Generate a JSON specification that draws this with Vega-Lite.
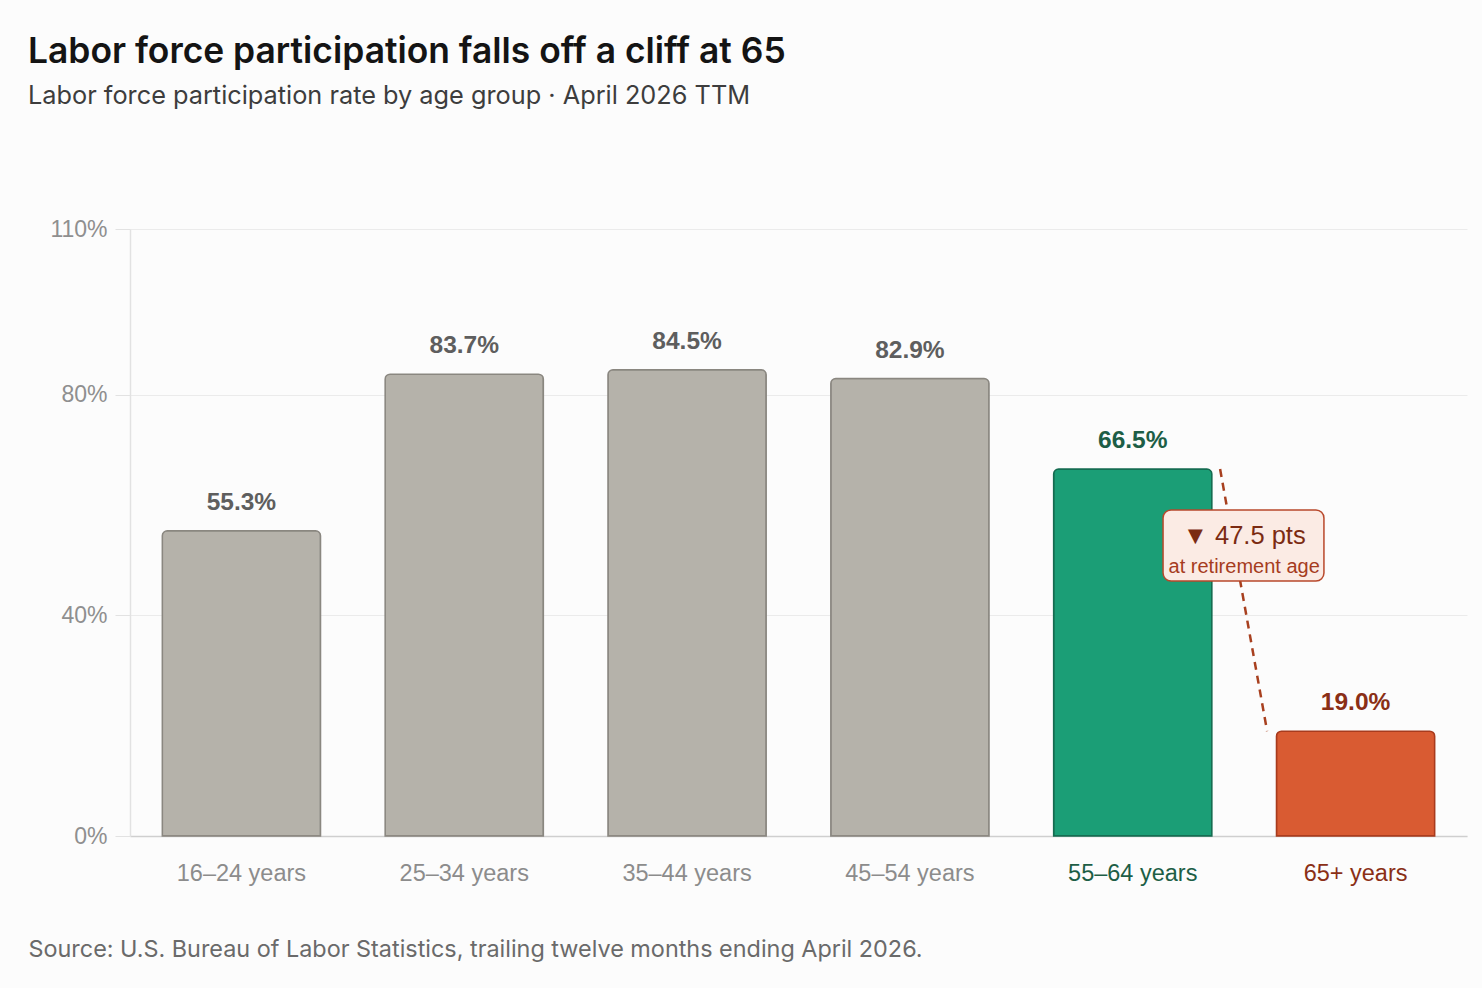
{
  "$schema": "https://vega.github.io/schema/vega-lite/v6.json",
  "width": 1337,
  "height": 607,
  "autosize": {"type": "none"},
  "padding": {"left": 130, "top": 229, "right": 15, "bottom": 152},
  "background": "#fcfcfc",
  "config": {"view": {"stroke": null}},
  "title": {
    "text": "Labor force participation falls off a cliff at 65",
    "subtitle": "Labor force participation rate by age group · April 2026 TTM",
    "anchor": "start",
    "frame": "group",
    "dx": -102,
    "offset": 109,
    "font": "Inter",
    "fontSize": 35.4,
    "fontWeight": 600,
    "color": "#141414",
    "subtitleFont": "Inter",
    "subtitleFontSize": 25.3,
    "subtitleColor": "#3d3d3d",
    "subtitlePadding": 13
  },
  "layer": [
    {
      "data": {
        "values": [
          {"group": "16–24 years", "rate": 0.553},
          {"group": "25–34 years", "rate": 0.837},
          {"group": "35–44 years", "rate": 0.845},
          {"group": "45–54 years", "rate": 0.829},
          {"group": "55–64 years", "rate": 0.665},
          {"group": "65+ years", "rate": 0.19}
        ]
      },
      "encoding": {
        "x": {
          "field": "group",
          "type": "nominal",
          "sort": null,
          "scale": {"paddingInner": 0.29, "paddingOuter": 0.145},
          "axis": {
            "title": "Source: U.S. Bureau of Labor Statistics, trailing twelve months ending April 2026.",
            "labelAngle": 0,
            "ticks": false,
            "domainColor": "#cfcfcf",
            "domainWidth": 1.5,
            "labelPadding": 25,
            "labelFont": "Liberation Sans",
            "labelFontSize": 23.5,
            "labelColor": {
              "condition": [
                {"test": "datum.value === '55–64 years'", "value": "#1d5e46"},
                {"test": "datum.value === '65+ years'", "value": "#8a2f16"}
              ],
              "value": "#8c8c8c"
            },
            "titleX": -102,
            "titleY": 120,
            "titleAnchor": "start",
            "titleAlign": "left",
            "titleBaseline": "alphabetic",
            "titleFont": "Inter",
            "titleFontSize": 23.4,
            "titleFontWeight": "normal",
            "titleColor": "#6a6a6a"
          }
        },
        "y": {
          "field": "rate",
          "type": "quantitative",
          "scale": {"domain": [0, 1.1], "nice": false, "zero": true},
          "axis": {
            "values": [0, 0.4, 0.8, 1.1],
            "format": ".0%",
            "title": null,
            "grid": true,
            "gridColor": "#ebebeb",
            "gridWidth": 1.2,
            "domainColor": "#e2e2e2",
            "domainWidth": 1.5,
            "tickColor": "#e2e2e2",
            "tickSize": 15,
            "labelPadding": 8,
            "labelFont": "Liberation Sans",
            "labelFontSize": 23,
            "labelColor": "#8f8f8f"
          }
        }
      },
      "layer": [
        {
          "mark": {"type": "bar", "cornerRadiusEnd": 5, "strokeWidth": 1.5},
          "encoding": {
            "fill": {
              "condition": [
                {"test": "datum.group === '55–64 years'", "value": "#1b9e76"},
                {"test": "datum.group === '65+ years'", "value": "#d95b32"}
              ],
              "value": "#b5b2aa"
            },
            "stroke": {
              "condition": [
                {"test": "datum.group === '55–64 years'", "value": "#156b50"},
                {"test": "datum.group === '65+ years'", "value": "#a83b1d"}
              ],
              "value": "#8a8780"
            }
          }
        },
        {
          "mark": {
            "type": "text",
            "font": "Liberation Sans",
            "fontSize": 24.5,
            "fontWeight": "bold",
            "baseline": "alphabetic",
            "dy": -21
          },
          "encoding": {
            "text": {"field": "rate", "type": "quantitative", "format": ".1%"},
            "color": {
              "condition": [
                {"test": "datum.group === '55–64 years'", "value": "#1d5e46"},
                {"test": "datum.group === '65+ years'", "value": "#8a2f16"}
              ],
              "value": "#5e5e5e"
            }
          }
        }
      ]
    },
    {
      "data": {
        "values": [
          {"from_group": "55–64 years", "to_group": "65+ years", "from_rate": 0.665, "to_rate": 0.19}
        ]
      },
      "transform": [
        {"calculate": "'▼ ' + format((datum.from_rate - datum.to_rate) * 100, '.1f') + ' pts'", "as": "drop_label"}
      ],
      "layer": [
        {
          "mark": {"type": "rule", "strokeDash": [8, 6], "strokeWidth": 2.5, "color": "#a8401f"},
          "encoding": {
            "x": {"datum": 4.892, "type": "quantitative", "scale": {"domain": [0, 6], "nice": false, "zero": false}, "axis": null},
            "x2": {"datum": 5.103},
            "y": {"field": "from_rate", "type": "quantitative", "title": null},
            "y2": {"field": "to_rate"}
          }
        },
        {
          "mark": {"type": "rect", "fill": "#fbebe4", "stroke": "#b8482b", "strokeWidth": 1.5, "cornerRadius": 8},
          "encoding": {
            "x": {"datum": 4.636, "type": "quantitative"},
            "x2": {"datum": 5.358},
            "y": {"datum": 0.5908, "type": "quantitative"},
            "y2": {"datum": 0.4621}
          }
        },
        {
          "mark": {"type": "text", "font": "Liberation Sans", "fontSize": 25.5, "color": "#7b2b12", "baseline": "middle", "align": "center"},
          "encoding": {
            "x": {"datum": 5.0, "type": "quantitative"},
            "y": {"datum": 0.5437, "type": "quantitative"},
            "text": {"field": "drop_label"}
          }
        },
        {
          "mark": {"type": "text", "font": "Liberation Sans", "fontSize": 20, "color": "#a63c1e", "baseline": "middle", "align": "center", "text": "at retirement age"},
          "encoding": {
            "x": {"datum": 5.0, "type": "quantitative"},
            "y": {"datum": 0.4875, "type": "quantitative"}
          }
        }
      ]
    }
  ],
  "resolve": {"scale": {"x": "independent"}, "axis": {"x": "independent"}}
}
